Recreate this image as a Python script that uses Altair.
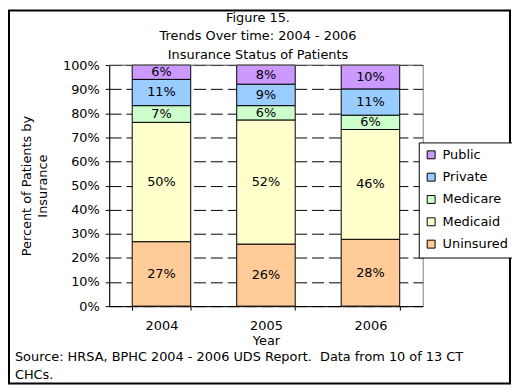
import altair as alt
import pandas as pd

FONT = "DejaVu Sans"

years = ["2004", "2005", "2006"]
stack_order = ["Uninsured", "Medicaid", "Medicare", "Private", "Public"]
uninsured = [27, 26, 28]
medicaid = [50, 52, 46]
medicare = [7, 6, 6]
private = [11, 9, 11]
public = [6, 8, 10]
legend_order = ["Public", "Private", "Medicare", "Medicaid", "Uninsured"]
colors = ["#CC99FF", "#99CCFF", "#CCFFCC", "#FFFFCC", "#FFCC99"]
y_ticks = [0.0, 0.1, 0.2, 0.3, 0.4, 0.5, 0.6, 0.7, 0.8, 0.9, 1.0]
title_lines = ["Figure 15.", "Trends Over time: 2004 - 2006", "Insurance Status of Patients"]
y_title = ["Percent of Patients by", "Insurance"]
x_title = "Year"
source_lines = ["Source: HRSA, BPHC 2004 - 2006 UDS Report.\u00a0 Data from 10 of 13 CT", "CHCs."]

series = {"Uninsured": uninsured, "Medicaid": medicaid, "Medicare": medicare,
          "Private": private, "Public": public}
rows = []
for k, cat in enumerate(stack_order):
    for i, yr in enumerate(years):
        rows.append({"year": yr, "category": cat, "value": series[cat][i], "order": k})
df = pd.DataFrame(rows)

base = alt.Chart(df).transform_stack(
    stack="value", groupby=["year"], as_=["y0", "y1"], offset="normalize",
    sort=[alt.SortField("order", order="ascending")],
).transform_calculate(mid="(datum.y0 + datum.y1) / 2", label="datum.value + '%'")

x_scale = alt.Scale(paddingInner=0.44, paddingOuter=0.22)
x_axis = alt.Axis(title=x_title, labelAngle=0, tickBand="extent", tickSize=4,
                  labelPadding=10, titlePadding=2, domainColor="black", tickColor="black",
                  labelColor="black", titleColor="black", labelFont=FONT, titleFont=FONT,
                  labelFontSize=13, titleFontSize=13, titleFontWeight="normal", grid=False)

y_scale = alt.Scale(domain=[0, 1], nice=False)
y_axis = alt.Axis(values=y_ticks, tickCount=len(y_ticks), format=".0%", title=y_title,
                  tickSize=4, labelPadding=6, labelOverlap=False,
                  grid=True, gridColor="black", gridDash=[12, 5],
                  domainColor="black", tickColor="black", labelColor="black", titleColor="black",
                  labelFont=FONT, titleFont=FONT, labelFontSize=13, titleFontSize=13,
                  titleFontWeight="normal", titleAngle=270, titleX=-83, titleY=121.5,
                  titleAlign="center", titleBaseline="middle", titleLineHeight=16)

bars = base.mark_bar(stroke="black", strokeWidth=1, opacity=1).encode(
    x=alt.X("year:N", sort=years, scale=x_scale, axis=x_axis),
    y=alt.Y("y0:Q", scale=y_scale, axis=y_axis),
    y2="y1:Q",
    color=alt.Color(
        "category:N",
        scale=alt.Scale(domain=legend_order, range=colors),
        legend=alt.Legend(orient="none", legendX=312, legendY=78, title=None,
                          strokeColor="black", fillColor="white", padding=6,
                          symbolType="square", symbolSize=64, symbolStrokeColor="black",
                          symbolStrokeWidth=1, symbolOpacity=1, labelFont=FONT,
                          labelFontSize=13, labelColor="black", rowPadding=8.5,
                          labelOffset=5, cornerRadius=0),
    ),
)

labels = base.mark_text(font=FONT, fontSize=13, color="black").encode(
    x=alt.X("year:N", sort=years, scale=x_scale, axis=x_axis),
    y=alt.Y("mid:Q", scale=y_scale, axis=y_axis),
    text="label:N",
)

dummy = alt.Chart(pd.DataFrame({"d": [0]}))

# gray plot-area frame line on top (covers the 100% gridline like the reference)
top_frame = dummy.mark_rule(color="#808080", strokeWidth=1).encode(
    x=alt.value(0), x2=alt.value(316), y=alt.value(0)
)

title = dummy.mark_text(font=FONT, fontSize=13, color="black", align="center",
                        baseline="top", lineHeight=18.8).encode(
    x=alt.value(150), y=alt.value(-53.6), text=alt.value(title_lines)
)

source = dummy.mark_text(font=FONT, fontSize=13, color="black", align="left",
                         baseline="top", lineHeight=18.3).encode(
    x=alt.value(-95), y=alt.value(288.5), text=alt.value(source_lines)
)

border = dummy.mark_rect(fillOpacity=0, stroke="black", strokeWidth=2).encode(
    x=alt.value(-101), x2=alt.value(404), y=alt.value(-55), y2=alt.value(321)
)

chart = alt.layer(bars, labels, top_frame, title, source, border).properties(
    width=316, height=243,
    autosize=alt.AutoSizeParams(type="none"),
    padding={"left": 102, "top": 56, "right": 90, "bottom": 79},
    background="white",
).configure_view(stroke="#808080", strokeWidth=1)

chart.save("out.html", embed_options={"renderer": "svg", "actions": False})
